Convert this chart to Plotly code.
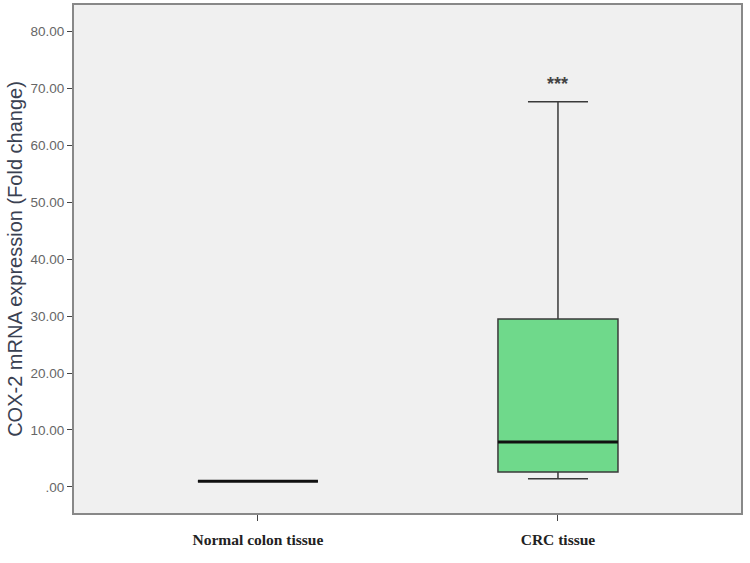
import plotly.graph_objects as go

# box summary values
groups = ["Normal colon tissue", "CRC tissue"]
positions = [0, 1]
q1 = [1.0, 2.6]
medians = [1.0, 7.9]
q3 = [1.0, 29.5]
lower_fence = [1.0, 1.4]
upper_fence = [1.0, 67.7]
y_ticks = [0, 10, 20, 30, 40, 50, 60, 70, 80]
y_tick_labels = [".00", "10.00", "20.00", "30.00", "40.00", "50.00", "60.00", "70.00", "80.00"]
sig_label = "***"

box_half = 0.2

fig = go.Figure()

fig.add_trace(go.Box(
    x=positions,
    q1=q1,
    median=medians,
    q3=q3,
    lowerfence=lower_fence,
    upperfence=upper_fence,
    width=box_half * 2,
    whiskerwidth=0.5,
    fillcolor="#6fd98b",
    line=dict(color="#3a3a3a", width=1.5),
    hoverinfo="skip",
    showlegend=False,
))

# thick black median lines drawn over the boxes
for p, m in zip(positions, medians):
    fig.add_trace(go.Scatter(
        x=[p - box_half, p + box_half],
        y=[m, m],
        mode="lines",
        line=dict(color="#111111", width=3),
        hoverinfo="skip",
        showlegend=False,
    ))

fig.add_annotation(
    x=positions[1], y=upper_fence[1],
    text="<b>%s</b>" % sig_label, showarrow=False,
    yanchor="bottom", yshift=6,
    font=dict(family="Liberation Sans", size=18, color="#444444"),
)

fig.update_layout(
    width=750,
    height=563,
    margin=dict(l=74, r=9, t=5, b=50),
    paper_bgcolor="white",
    plot_bgcolor="#f0f0f0",
    xaxis=dict(
        range=[-0.613, 1.61],
        tickvals=positions,
        ticktext=["<b>%s</b>" % g for g in groups],
        tickfont=dict(family="Liberation Serif", size=15.5, color="#222222"),
        ticks="outside", ticklen=6, tickcolor="#444444",
        ticklabelstandoff=5,
        showgrid=False, zeroline=False, automargin=False,
        showline=True, linecolor="#888888", linewidth=2, mirror=True,
    ),
    yaxis=dict(
        range=[-4.6, 84.7],
        tickvals=y_ticks,
        ticktext=y_tick_labels,
        tickfont=dict(family="Liberation Sans", size=13.5, color="#666666"),
        ticks="outside", ticklen=5, tickcolor="#444444",
        showgrid=False, zeroline=False, automargin=False,
        showline=True, linecolor="#888888", linewidth=2, mirror=True,
        title=dict(
            text="COX-2 mRNA expression (Fold change)",
            font=dict(family="Liberation Sans", size=20, color="#3a4152"),
            standoff=3,
        ),
    ),
)

# drop the default page margin so the figure sits at the window's corner
fig.write_html(
    "out.html",
    config={"displayModeBar": False},
    post_script="document.body.style.margin='0';",
)
